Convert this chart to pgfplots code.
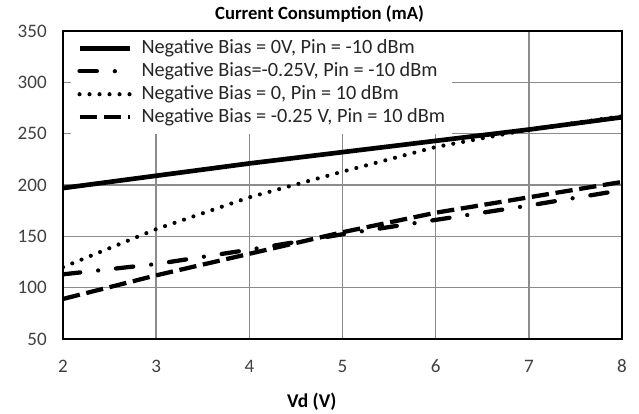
\documentclass[border=0pt]{standalone}
\usepackage{pgfplots}
\pgfplotsset{compat=1.18}
\usepackage{fontspec}
\setmainfont{Carlito}
\begin{document}
\begin{tikzpicture}
\begin{axis}[
  name=ax,
  at={(0,0)}, anchor=south west,
  scale only axis,
  width=419.25pt, height=231pt,
  xmin=2, xmax=8, ymin=50, ymax=350,
  xtick={2,3,4,5,6,7,8},
  ytick={50,100,...,350},
  grid=major,
  major grid style={black!45, line width=1.2pt},
  axis line style={black, line width=2.2pt},
  major tick length=0pt,
  /pgf/number format/assume math mode=true,
  ticklabel style={font=\fontsize{14.3}{16}\selectfont, text=black!75},
  xticklabel style={anchor=north, inner sep=0pt, yshift=-15.5pt},
  yticklabel style={anchor=east, inner sep=0pt, xshift=-12pt},
  xlabel={\textbf{Vd (V)}},
  xlabel style={font=\fontsize{14.6}{16}\selectfont, at={(axis description cs:0.445,0)}, anchor=north, inner sep=0pt, yshift=-40pt},
  legend cell align=left,
  legend style={at={(axis description cs:0.013,0.998)}, anchor=north west, draw=none, fill=white,
     font=\fontsize{15.2}{17}\selectfont, text=black!85, inner sep=5pt, row sep=2.75pt, column sep=6.75pt,
     nodes={inner sep=0pt, text height=11pt, text depth=3.5pt}},
  legend image code/.code={\draw[#1] (0pt,0pt) -- (38pt,0pt);},
]
\addplot[black, line width=3.5pt, line cap=butt] coordinates {(2,197) (3,209) (4,221) (5,232) (6,243) (7,254) (8,266)};
\addlegendentry{Negative Bias = 0V, Pin = -10 dBm}
\addplot[black, line width=3.2pt, line cap=round, dash pattern=on 13pt off 13.5pt on 0pt off 13.5pt] coordinates {(2,113) (3,123) (4,137) (5,152) (6,166) (7,180) (8,195)};
\addlegendentry{Negative Bias=-0.25V, Pin = -10 dBm}
\addplot[black, line width=3.1pt, line cap=round, dash pattern=on 0pt off 7.5pt] coordinates {(2,120) (3,157) (4,188) (5,213) (6,237) (7,254) (8,267)};
\addlegendentry{Negative Bias = 0, Pin = 10 dBm}
\addplot[black, line width=3.2pt, line cap=butt, dash pattern=on 13pt off 5pt] coordinates {(2,89) (3,112) (4,133) (5,154) (6,173) (7,188) (8,203)};
\addlegendentry{Negative Bias = -0.25 V, Pin = 10 dBm}
\end{axis}
\path (ax.north west) ++(192.4pt,8.5pt) node[anchor=base, inner sep=0pt, font=\fontsize{14}{16}\selectfont\bfseries] {Current Consumption (mA)};
\pgfresetboundingbox
\useasboundingbox (-47.25pt,-56.25pt) rectangle (432pt,254.25pt);
\end{tikzpicture}
\end{document}
